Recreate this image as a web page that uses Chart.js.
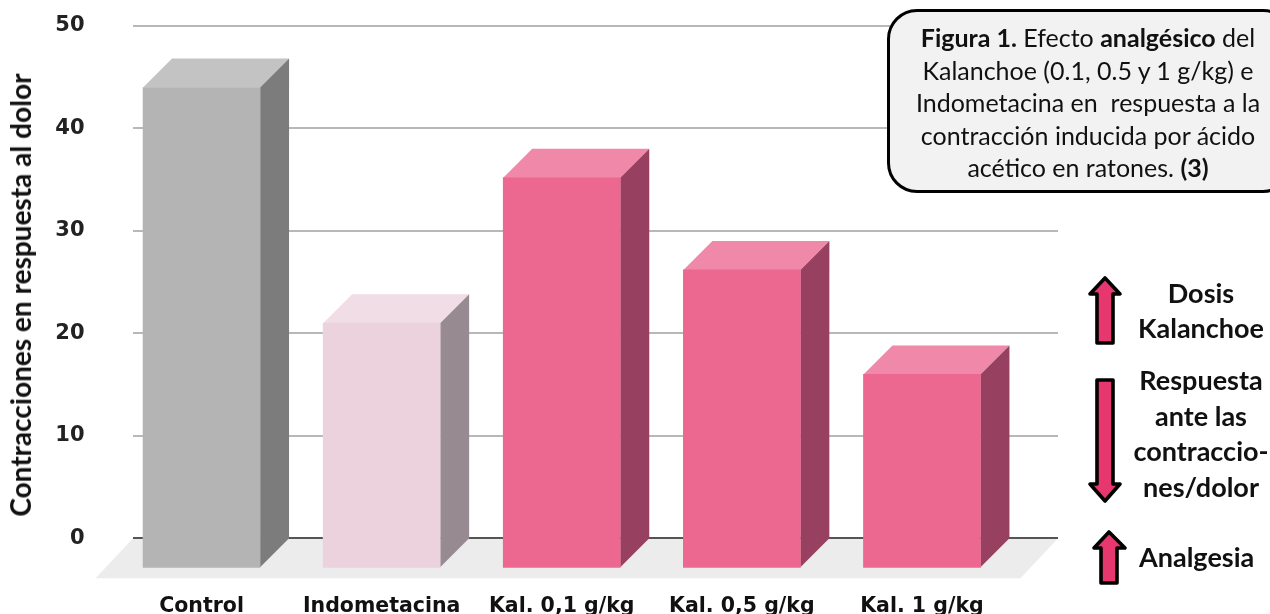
<!DOCTYPE html>
<html lang="es">
<head>
<meta charset="utf-8">
<script src="https://cdn.jsdelivr.net/npm/chart.js@4"></script>
<style>
html,body{margin:0;padding:0;background:#fff;overflow:hidden}
#wrap{position:relative;width:1270px;height:614px;overflow:hidden}
#c{position:absolute;left:0;top:0}
.t{position:absolute;font-family:Lato,sans-serif;color:#111;text-align:center;white-space:pre}
.b{font-weight:700}
#box{position:absolute;left:887px;top:9px;width:400px;height:178px;border:3px solid #000;border-radius:30px;background:#f2f2f2}
#boxt{left:888px;top:21px;width:400px;font-size:25px;line-height:32.5px}
#ytitle{left:20px;top:295px;font-size:28px;line-height:34px;transform:translate(-50%,-50%) rotate(-90deg)}
svg{position:absolute;left:0;top:0}
</style>
</head>
<body>
<div id="wrap">
<canvas id="c" width="1270" height="614"></canvas>
<div class="t b" id="ytitle">Contracciones en respuesta al dolor</div>
<div id="box"></div>
<div class="t" id="boxt"><b>Figura 1.</b> Efecto <b>analgésico</b> del
Kalanchoe (0.1, 0.5 y 1 g/kg) e
Indometacina en  respuesta a la
contracción inducida por ácido
acético en ratones. <b>(3)</b></div>
<svg width="1270" height="614">
<g fill="#e6386f" stroke="#000" stroke-width="3.6" stroke-linejoin="round">
<polygon points="1105,278 1120,294 1113,294 1113,343 1097,343 1097,294 1090,294"/>
<polygon points="1097,380 1113,380 1113,484 1120,484 1105,501 1090,484 1097,484"/>
<polygon points="1109,532 1125,548 1117,548 1117,583 1101,583 1101,548 1094,548"/>
</g>
</svg>
<div class="t b" style="left:1121px;width:160px;top:275px;font-size:27px;line-height:35px">Dosis
Kalanchoe</div>
<div class="t b" style="left:1121px;width:160px;top:362px;font-size:27px;line-height:35.5px">Respuesta
ante las
contraccio-
nes/dolor</div>
<div class="t b" style="left:1139px;top:539px;font-size:27px;line-height:36px">Analgesia</div>
</div>
<script>
const categories = ["Control", "Indometacina", "Kal. 0,1 g/kg", "Kal. 0,5 g/kg", "Kal. 1 g/kg"];
const values = [44, 21, 35.2, 26.2, 16];
const barColors = ["#b4b4b4", "#ebd2dd", "#ec6890", "#ec6890", "#ec6890"];
const topColors = ["#c3c3c3", "#f0dde6", "#f088aa", "#f088aa", "#f088aa"];
const sideColors = ["#7c7c7c", "#978b91", "#984060", "#984060", "#984060"];
const yTicks = [0, 10, 20, 30, 40, 50];
const barBase = -2.83;
const floorBottom = -3.9;
const depth = 29;

const threeD = {
  id: "threeD",
  beforeDatasetsDraw(chart) {
    const ctx = chart.ctx, y = chart.scales.y;
    const right = 1058, left = 133, d = 37.5;
    const y0 = y.getPixelForValue(0), yb = y.getPixelForValue(floorBottom);
    ctx.save();
    ctx.fillStyle = "#ececec";
    ctx.beginPath();
    ctx.moveTo(left, y0); ctx.lineTo(right, y0); ctx.lineTo(right - d, yb); ctx.lineTo(left - d, yb);
    ctx.closePath(); ctx.fill();
    yTicks.forEach(v => {
      const p = Math.round(y.getPixelForValue(v));
      ctx.strokeStyle = v === 0 ? "#555555" : "#b8b8b8";
      ctx.lineWidth = 2;
      ctx.beginPath(); ctx.moveTo(left, p); ctx.lineTo(right, p); ctx.stroke();
    });
    chart.getDatasetMeta(0).data.forEach((bar, i) => {
      const l = bar.x - bar.width / 2, r = bar.x + bar.width / 2;
      ctx.fillStyle = topColors[i];
      ctx.beginPath();
      ctx.moveTo(l, bar.y); ctx.lineTo(l + depth, bar.y - depth);
      ctx.lineTo(r + depth, bar.y - depth); ctx.lineTo(r, bar.y);
      ctx.closePath(); ctx.fill();
      ctx.fillStyle = sideColors[i];
      ctx.beginPath();
      ctx.moveTo(r, bar.y); ctx.lineTo(r + depth, bar.y - depth);
      ctx.lineTo(r + depth, bar.base - depth); ctx.lineTo(r, bar.base);
      ctx.closePath(); ctx.fill();
    });
    ctx.restore();
  }
};

new Chart(document.getElementById("c"), {
  type: "bar",
  data: {
    labels: categories,
    datasets: [{ data: values, base: barBase, backgroundColor: barColors, barThickness: 117, borderWidth: 0 }]
  },
  plugins: [threeD],
  options: {
    responsive: false,
    animation: false,
    devicePixelRatio: 1,
    layout: { padding: { top: 26, right: 258, left: 0, bottom: 0 } },
    plugins: { legend: { display: false }, tooltip: { enabled: false } },
    scales: {
      x: {
        grid: { display: false, drawTicks: false },
        border: { display: false },
        ticks: {
          color: "#111",
          padding: 5,
          maxRotation: 0,
          autoSkip: false,
          font: { family: "'DejaVu Sans'", weight: "bold", size: 20.5 }
        },
        afterFit(s) { s.height = 24.4; s.paddingLeft = 0; s.paddingRight = 0; }
      },
      y: {
        min: -5,
        max: 50,
        afterBuildTicks(s) { s.ticks = yTicks.map(v => ({ value: v })); },
        grid: { display: false, drawTicks: false },
        border: { display: false },
        ticks: {
          color: "#222",
          padding: 27,
          font: { family: "'DejaVu Sans'", weight: "bold", size: 21 }
        },
        afterFit(s) { s.width = 111.5; s.paddingTop = 0; s.paddingBottom = 0; }
      }
    }
  }
});
</script>
</body>
</html>
